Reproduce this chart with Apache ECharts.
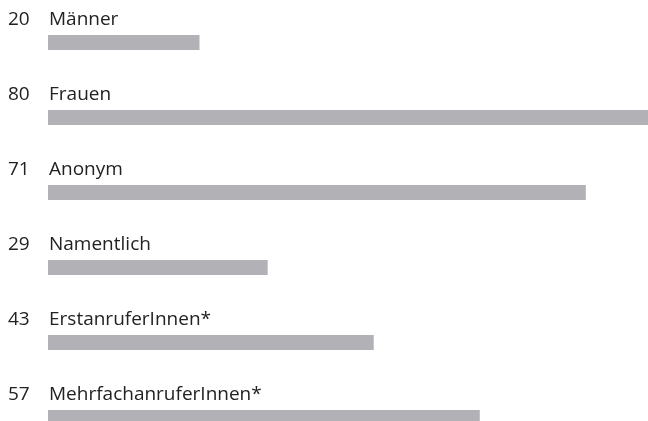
<!DOCTYPE html>
<html><head><meta charset="utf-8">
<script src="https://cdn.jsdelivr.net/npm/echarts@6/dist/echarts.min.js"></script>
<style>html,body{margin:0;padding:0;background:#fff}#c{width:648px;height:421px}</style>
</head><body><div id="c"></div>
<script>
const categories = ["Männer", "Frauen", "Anonym", "Namentlich", "ErstanruferInnen*", "MehrfachanruferInnen*"];
const values = [20, 80, 71, 29, 43, 57];

const chart = echarts.init(document.getElementById('c'), null, {renderer: 'canvas'});
chart.setOption({
  animation: false,
  grid: {left: 48, top: 5, width: 757.5, height: 450, containLabel: false, outerBoundsMode: 'none'},
  xAxis: {type: 'value', min: 0, max: 100, show: false},
  yAxis: {type: 'category', data: categories, inverse: true, show: false},
  series: [{
    type: 'bar',
    data: values,
    barWidth: 15,
    clip: false,
    itemStyle: {color: '#b2b2b6'},
    label: {
      show: true,
      position: [-40, -27],
      align: 'left',
      verticalAlign: 'top',
      formatter: p => '{v|' + p.value + '}{n|' + p.name + '}',
      rich: {
        v: {width: 41, fontSize: 19, fontFamily: 'Open Sans', color: '#222', lineHeight: 24},
        n: {fontSize: 19, fontFamily: 'Open Sans', color: '#222', lineHeight: 24}
      }
    }
  }]
});
</script></body></html>
